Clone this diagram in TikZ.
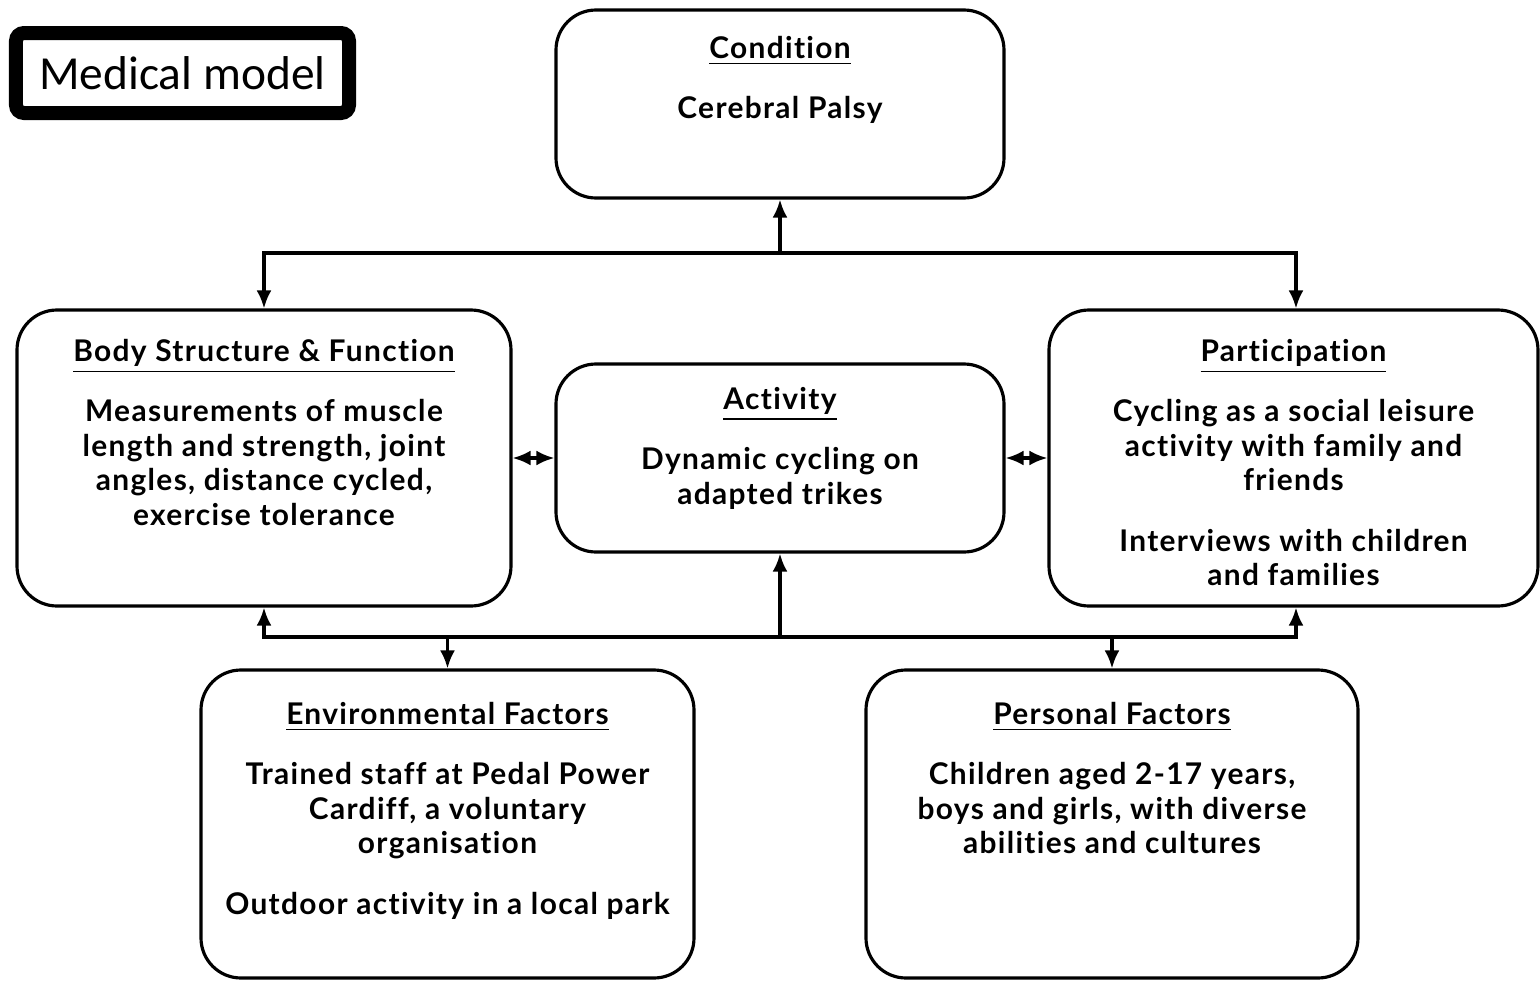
\documentclass[tikz,border=0pt]{standalone}
\usepackage{fontspec}
\setmainfont{Lato}[Ligatures=NoCommon, LetterSpace=4.5]
\newfontfamily\calibri{Carlito}
\usetikzlibrary{positioning, arrows.meta}

\tikzset{
  box/.style={draw, line width=0.9pt, rounded corners=0.4cm, inner sep=0pt},
  txt/.style={anchor=north, align=center, inner sep=0pt, font=\bfseries\fontsize{8.5}{9.8}\selectfont},
  arr/.style={-{Latex[length=0.18cm,width=0.15cm]}, line width=0.9pt},
  dblarr/.style={{Latex[length=0.18cm,width=0.15cm]}-{Latex[length=0.18cm,width=0.15cm]}, line width=0.9pt}
}

\begin{document}
\begin{tikzpicture}

        \useasboundingbox (0,0) rectangle (15.4,-9.81);

        % Label in the corner
        \node[draw, line width=0.14cm, rounded corners=0.08cm, minimum width=3.33cm, minimum height=0.80cm,
              font=\calibri\fontsize{13.5}{16}\selectfont] (MedicalModel) at (1.825,-0.73) {Medical model};

        % Draw the boxes
        \node[box, minimum width=4.48cm, minimum height=1.88cm] (Condition) at (7.80,-1.04) {};
        \node[box, minimum width=4.94cm, minimum height=2.96cm] (BodyStructure) at (2.64,-4.58) {};
        \node[box, minimum width=4.48cm, minimum height=1.88cm] (Activity) at (7.80,-4.58) {};
        \node[box, minimum width=4.89cm, minimum height=2.96cm] (Participation) at (12.935,-4.58) {};
        \node[box, minimum width=4.93cm, minimum height=3.08cm] (Environmental) at (4.475,-8.24) {};
        \node[box, minimum width=4.92cm, minimum height=3.08cm] (Personal) at (11.12,-8.24) {};

        % Texts inside the boxes
        \node[txt] (ConditionText) at ([yshift=-0.27cm]Condition.north)
            {\underline{Condition}\\[0.26cm] Cerebral Palsy};
        \node[txt] (BodyText) at ([yshift=-0.30cm]BodyStructure.north)
            {\underline{Body Structure \& Function}\\[0.26cm]
             Measurements of muscle\\ length and strength, joint\\ angles, distance cycled,\\ exercise tolerance};
        \node[txt] (ActivityText) at ([yshift=-0.24cm]Activity.north)
            {\underline{Activity}\\[0.26cm] Dynamic cycling on\\ adapted trikes};
        \node[txt] (ParticipationText) at ([yshift=-0.30cm]Participation.north)
            {\underline{Participation}\\[0.26cm]
             Cycling as a social leisure\\ activity with family and\\ friends\\[0.26cm]
             Interviews with children\\ and families};
        \node[txt] (EnvironmentalText) at ([yshift=-0.33cm]Environmental.north)
            {\underline{Environmental Factors}\\[0.26cm]
             Trained staff at Pedal Power\\ Cardiff, a voluntary\\ organisation\\[0.26cm]
             Outdoor activity in a local park};
        \node[txt] (PersonalText) at ([yshift=-0.33cm]Personal.north)
            {\underline{Personal Factors}\\[0.26cm]
             Children aged 2-17 years,\\ boys and girls, with diverse\\ abilities and cultures};

        % Upper connectors
        \coordinate (TopBus) at (7.80,-2.53);
        \draw[arr] (TopBus) -- (Condition.south);
        \draw[arr] (TopBus) -| (BodyStructure.north);
        \draw[arr] (TopBus) -| ([xshift=0.025cm]Participation.north);

        % Middle connectors
        \draw[dblarr] (BodyStructure.east) -- (Activity.west);
        \draw[dblarr] (Activity.east) -- (Participation.west);

        % Lower connectors
        \coordinate (BottomBus) at (7.80,-6.37);
        \draw[arr] (BottomBus) -- (Activity.south);
        \draw[arr] (BottomBus) -| (BodyStructure.south);
        \draw[arr] (BottomBus) -| ([xshift=0.025cm]Participation.south);
        \draw[arr] (Environmental.north |- BottomBus) -- (Environmental.north);
        \draw[arr] (Personal.north |- BottomBus) -- (Personal.north);

\end{tikzpicture}
\end{document}
